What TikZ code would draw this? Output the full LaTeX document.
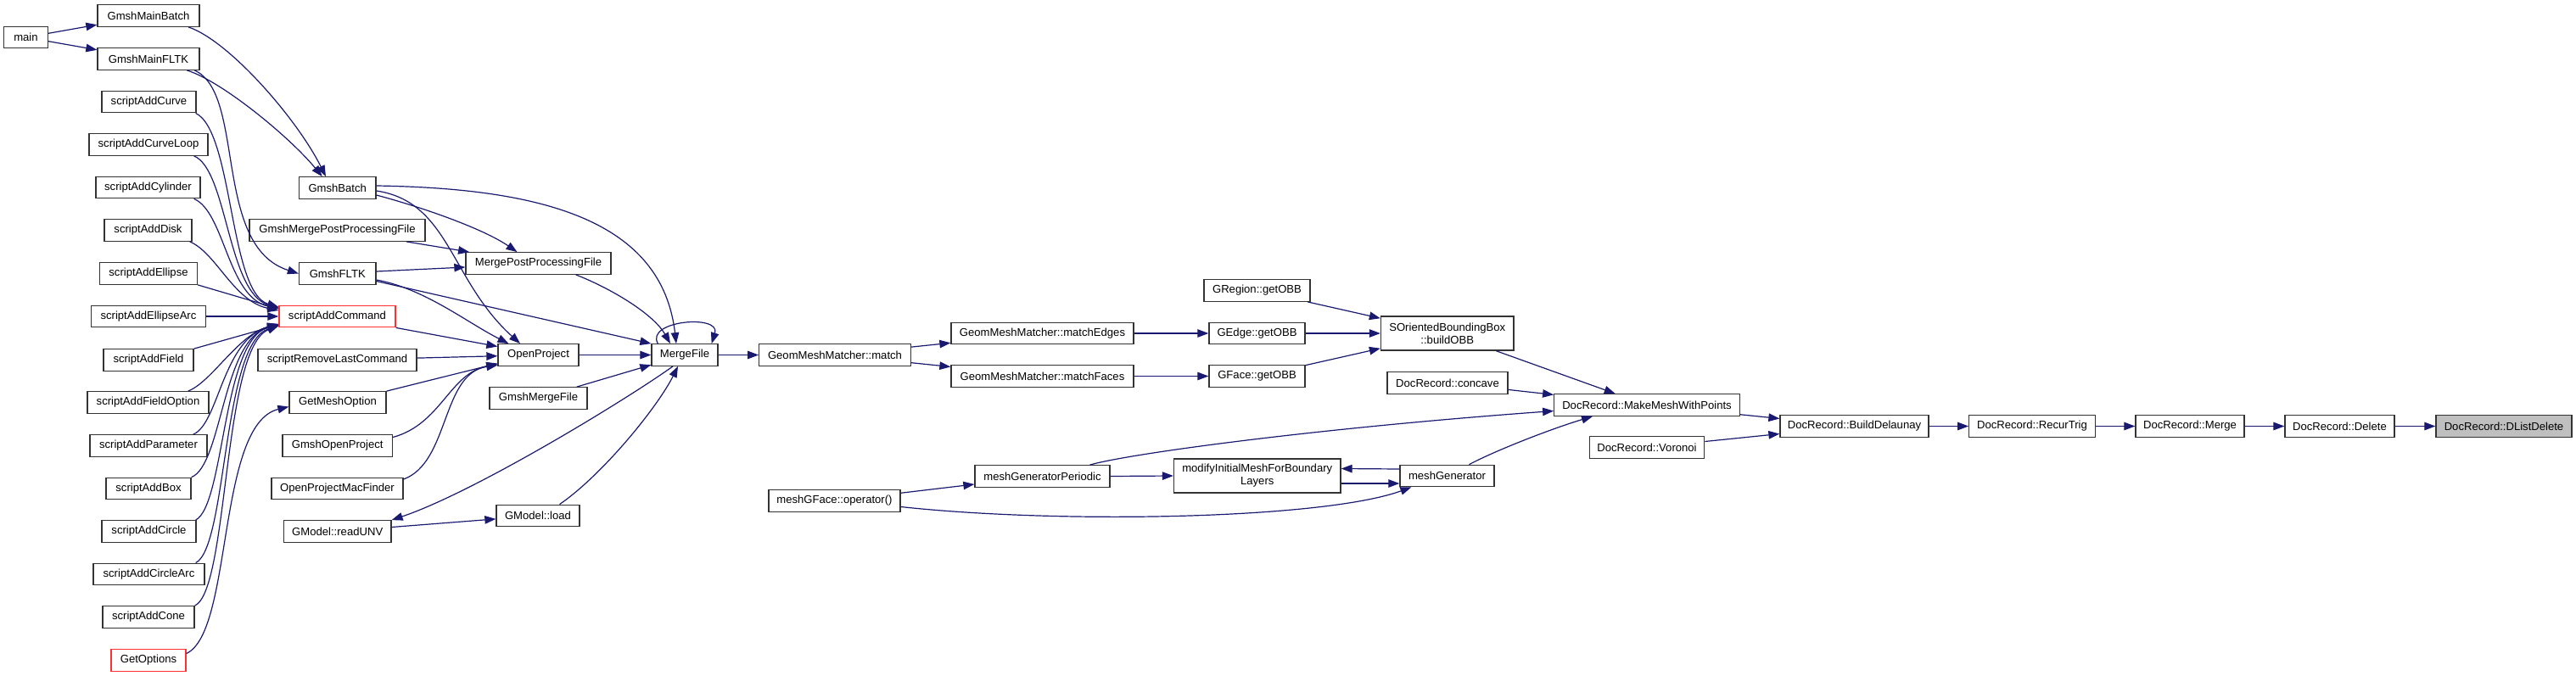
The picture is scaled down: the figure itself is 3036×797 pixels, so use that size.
\documentclass[tikz,border=0pt]{standalone}
\usepackage{fontspec}
\setmainfont{Liberation Sans}
\usetikzlibrary{arrows.meta,calc}
\definecolor{edgec}{HTML}{191970}
\definecolor{redc}{HTML}{FF3030}
\definecolor{grayfill}{HTML}{BFBFBF}
\begin{document}
\begin{tikzpicture}[x=1pt,y=-1pt,
  box/.style={draw=black!80, line width=1.3pt, fill=white, inner sep=0pt,
    minimum height=25.5pt, align=center, font=\fontsize{13.1}{15}\selectfont, text=black},
  redbox/.style={box, draw=redc},
  graybox/.style={box, fill=grayfill},
  cn/.style={draw=edgec, line width=1.2pt, -{Triangle[length=13pt,width=9.5pt]}}]
\fill[white] (0,0) rectangle (3036,797);
\useasboundingbox (0,0) rectangle (3036,797);

% column 1
\node[box, minimum width=52pt] (main) at (30.5,44) {main};
\node[box, minimum width=120pt] (gmb) at (175,18.5) {GmshMainBatch};
\node[box, minimum width=120pt] (gmf) at (175,69.5) {GmshMainFLTK};
\node[box, minimum width=111pt] (sCurve) at (175.5,120) {scriptAddCurve};
\node[box, minimum width=140pt] (sCurveLoop) at (175,170.5) {scriptAddCurveLoop};
\node[box, minimum width=123pt] (sCyl) at (174.5,221) {scriptAddCylinder};
\node[box, minimum width=103pt] (sDisk) at (174.5,271.5) {scriptAddDisk};
\node[box, minimum width=115pt] (sEll) at (175,322.5) {scriptAddEllipse};
\node[box, minimum width=135pt] (sEllArc) at (175,373) {scriptAddEllipseArc};
\node[box, minimum width=106pt] (sField) at (175,424.5) {scriptAddField};
\node[box, minimum width=143pt] (sFieldOpt) at (174.5,474.5) {scriptAddFieldOption};
\node[box, minimum width=138pt] (sParam) at (175,525.5) {scriptAddParameter};
\node[box, minimum width=100pt] (sBox) at (175,576) {scriptAddBox};
\node[box, minimum width=111pt] (sCircle) at (175.5,626.5) {scriptAddCircle};
\node[box, minimum width=131pt] (sCircleArc) at (175.5,677) {scriptAddCircleArc};
\node[box, minimum width=108pt] (sCone) at (175,727.5) {scriptAddCone};
\node[redbox, minimum width=88pt] (getOpt) at (175,778.5) {GetOptions};

% column 2
\node[box, minimum width=90.5pt] (gBatch) at (397.75,221.5) {GmshBatch};
\node[box, minimum width=207pt] (gMergePP) at (397.5,271.5) {GmshMergePostProcessingFile};
\node[box, minimum width=90.5pt] (gFLTK) at (397.75,322.5) {GmshFLTK};
\node[redbox, minimum width=137pt] (sCmd) at (397.5,373) {scriptAddCommand};
\node[box, minimum width=187pt] (sRemove) at (397.5,424.5) {scriptRemoveLastCommand};
\node[box, minimum width=114pt] (getMesh) at (398,474.5) {GetMeshOption};
\node[box, minimum width=129.5pt] (gOpenProj) at (397.75,525.5) {GmshOpenProject};
\node[box, minimum width=155pt] (opMac) at (397.5,576) {OpenProjectMacFinder};
\node[box, minimum width=126.5pt] (readUNV) at (397.75,626.5) {GModel::readUNV};

% column 3
\node[box, minimum width=171pt] (mergePP) at (634.5,310.5) {MergePostProcessingFile};
\node[box, minimum width=95pt] (openProj) at (634.5,418.5) {OpenProject};
\node[box, minimum width=115pt] (gMergeFile) at (634.5,469.5) {GmshMergeFile};
\node[box, minimum width=98pt] (load) at (634,608) {GModel::load};

% column 4+
\node[box, minimum width=78pt] (mergeFile) at (807,418.5) {MergeFile};
\node[box, minimum width=178.5pt] (match) at (984,418.5) {GeomMeshMatcher::match};
\node[box, minimum width=155pt] (mgfOp) at (983.5,590.5) {meshGFace::operator()};
\node[box, minimum width=215pt] (mEdges) at (1228.5,393) {GeomMeshMatcher::matchEdges};
\node[box, minimum width=215pt] (mFaces) at (1228.5,443.5) {GeomMeshMatcher::matchFaces};
\node[box, minimum width=159pt] (mgPer) at (1228.5,561.5) {meshGeneratorPeriodic};
\node[box, minimum width=125pt] (rOBB) at (1481.5,342.5) {GRegion::getOBB};
\node[box, minimum width=113pt] (eOBB) at (1481.5,393) {GEdge::getOBB};
\node[box, minimum width=113pt] (fOBB) at (1481.5,443.5) {GFace::getOBB};
\node[box, minimum width=196.5pt, minimum height=40pt] (modif) at (1481.75,561) {modifyInitialMeshForBoundary\\Layers};
\node[box, minimum width=156.5pt, minimum height=40pt] (build) at (1705.75,393) {SOrientedBoundingBox\\::buildOBB};
\node[box, minimum width=142pt] (concave) at (1706,451.5) {DocRecord::concave};
\node[box, minimum width=111pt] (meshGen) at (1705.5,561) {meshGenerator};
\node[box, minimum width=218.5pt] (mmwp) at (1941,477.5) {DocRecord::MakeMeshWithPoints};
\node[box, minimum width=135.5pt] (voronoi) at (1941,527.5) {DocRecord::Voronoi};
\node[box, minimum width=175pt] (bDel) at (2185.5,502.5) {DocRecord::BuildDelaunay};
\node[box, minimum width=148.5pt] (recur) at (2395,502.5) {DocRecord::RecurTrig};
\node[box, minimum width=128pt] (merge) at (2581,502.5) {DocRecord::Merge};
\node[box, minimum width=129pt] (delete) at (2757.5,502.5) {DocRecord::Delete};
\node[graybox, minimum width=160pt] (dld) at (2951,502.5) {DocRecord::DListDelete};

% edges, left part
\draw[cn] (main) -- (gmb);
\draw[cn] (main) -- (gmf);
\draw[cn] ($(gmb.south east)+(-13.6,0)$) .. controls (270,48) and (350,140) .. ($(gBatch.north)+(-13.75,0)$);
\draw[cn] ($(gmf.south east)+(-15.4,0)$) .. controls (260,95) and (340,160) .. ($(gBatch.north)+(-18,0)$);
\draw[cn] ($(gmf.south east)+(-6.4,0)$) .. controls (290,110) and (250,290) .. (gFLTK.west);

\draw[cn] ($(sCurve.south east)+(-1,0)$) .. controls (275,155) and (270,345) .. ($(sCmd.west)+(0,-11)$);
\draw[cn] ($(sCurveLoop.south east)+(-17,0)$) .. controls (268,200) and (268,345) .. ($(sCmd.west)+(0,-10)$);
\draw[cn] ($(sCyl.south east)+(-8,0)$) .. controls (265,250) and (268,350) .. ($(sCmd.west)+(0,-9)$);
\draw[cn] ($(sDisk.south east)+(-3,0)$) .. controls (255,298) and (275,355) .. ($(sCmd.west)+(0,-7)$);
\draw[cn] (sEll.south east) -- ($(sCmd.west)+(0,-9)$);
\draw[cn] (sEllArc) -- (sCmd);
\draw[cn] (sField.north east) -- ($(sCmd.west)+(0,10)$);
\draw[cn] ($(sFieldOpt.north east)+(-25,0)$) .. controls (250,450) and (280,395) .. ($(sCmd.west)+(0,9)$);
\draw[cn] ($(sParam.north east)+(-17,0)$) .. controls (258,500) and (262,400) .. ($(sCmd.west)+(0,9)$);
\draw[cn] (sBox.north east) .. controls (262,548) and (262,400) .. ($(sCmd.west)+(0,10)$);
\draw[cn] ($(sCircle.north east)+(-1,0)$) .. controls (265,595) and (262,400) .. ($(sCmd.west)+(0,10)$);
\draw[cn] ($(sCircleArc.north east)+(-11,0)$) .. controls (268,645) and (262,405) .. ($(sCmd.west)+(0,11)$);
\draw[cn] (sCone.north east) .. controls (270,695) and (262,410) .. ($(sCmd.west)+(0,11)$);
\draw[cn] ($(getOpt.east)+(0,-8)$) .. controls (275,745) and (255,500) .. ($(getMesh.west)+(0,5)$);

% edges, middle
\draw[cn] ($(gBatch.east)+(0,-2.5)$) .. controls (640,222) and (780,260) .. ($(mergeFile.north)+(-10,0)$);
\draw[cn] ($(gBatch.east)+(0,8.5)$) .. controls (500,245) and (570,270) .. ($(mergePP.north)+(-25,0)$);
\draw[cn] ($(gBatch.east)+(0,3.5)$) .. controls (530,238) and (530,330) .. ($(openProj.north)+(-21.5,0)$);
\draw[cn] (gMergePP) -- (mergePP);
\draw[cn] ($(gFLTK.east)+(0,-2.5)$) -- ($(mergePP.west)+(0,4.5)$);
\draw[cn] ($(gFLTK.east)+(0,7.5)$) .. controls (500,340) and (550,380) .. ($(openProj.north)+(-35,0)$);
\draw[cn] ($(gFLTK.east)+(0,9)$) -- (mergeFile.north west);
\draw[cn] (sCmd.south east) -- ($(openProj.west)+(0,-10)$);
\draw[cn] (sRemove) -- (openProj);
\draw[cn] (getMesh.north east) -- ($(openProj.west)+(0,10)$);
\draw[cn] ($(gOpenProj.east)+(0,-10)$) .. controls (520,500) and (530,440) .. ($(openProj.west)+(0,11)$);
\draw[cn] ($(opMac.east)+(0,-11)$) .. controls (530,545) and (520,440) .. ($(openProj.west)+(0,12)$);
\draw[cn] ($(mergePP.south east)+(-42,0)$) .. controls (720,340) and (770,370) .. ($(mergeFile.north)+(-17,0)$);
\draw[cn] (openProj) -- (mergeFile);
\draw[cn] (gMergeFile) -- (mergeFile);
\draw[cn] ($(mergeFile.north west)+(8,0)$) .. controls (760,378) and (850,370) .. ($(mergeFile.north east)+(-8,0)$);
\draw[cn] ($(mergeFile.south)+(-14,0)$) .. controls (740,470) and (560,580) .. (readUNV.north east);
\draw[cn] (readUNV) -- (load);
\draw[cn] ($(load.north)+(25.5,0)$) .. controls (710,560) and (775,480) .. ($(mergeFile.south)+(-8,0)$);
\draw[cn] (mergeFile) -- (match);

% edges, right part
\draw[cn] (match) -- (mEdges);
\draw[cn] (match) -- (mFaces);
\draw[cn] (mEdges) -- (eOBB);
\draw[cn] (mFaces) -- (fOBB);
\draw[cn] (rOBB) -- (build);
\draw[cn] (eOBB) -- (build);
\draw[cn] (fOBB) -- (build);
\draw[cn] (build) -- (mmwp);
\draw[cn] (concave) -- (mmwp);
\draw[cn] (mmwp) -- (bDel);
\draw[cn] (voronoi) -- (bDel);
\draw[cn] (bDel) -- (recur);
\draw[cn] (recur) -- (merge);
\draw[cn] (merge) -- (delete);
\draw[cn] (delete) -- (dld);
\draw[cn] (mgfOp) -- (mgPer);
\draw[cn] ($(mgfOp.east)+(0,7)$) .. controls (1250,618) and (1560,612) .. ($(meshGen.south west)+(14,0)$);
\draw[cn] (mgPer.east) -- (modif.west);
\draw[cn] ($(modif.east)+(0,9)$) -- ($(meshGen.west)+(0,9)$);
\draw[cn] ($(meshGen.west)+(0,-8)$) -- ($(modif.east)+(0,-8.5)$);
\draw[cn] ($(mgPer.north)+(56,0)$) .. controls (1330,535) and (1550,505) .. ($(mmwp.west)+(0,7)$);
\draw[cn] ($(meshGen.north)+(26,0)$) .. controls (1765,530) and (1830,505) .. ($(mmwp.south)+(-64,0)$);
\end{tikzpicture}
\end{document}
